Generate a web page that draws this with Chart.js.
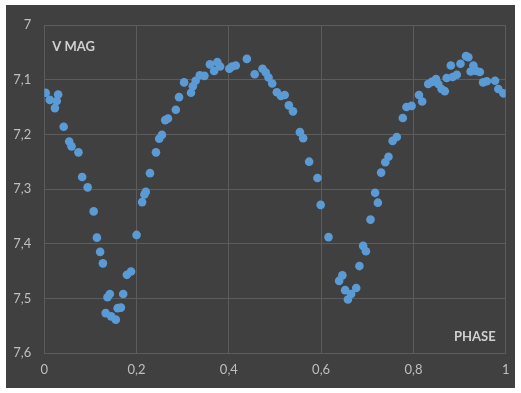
<!DOCTYPE html>
<html><head><meta charset="utf-8">
<script src="https://cdn.jsdelivr.net/npm/chart.js@4"></script>
<style>
html,body{margin:0;padding:0;background:#ffffff;width:521px;height:393px;overflow:hidden}
#wrap{position:absolute;left:6px;top:5px;width:509px;height:383px;background:#404040}
</style></head><body>
<div id="wrap"><canvas id="c" width="509" height="383"></canvas></div>
<script>
const phase = [0.003,0.012,0.030,0.027,0.023,0.042,0.054,0.059,0.074,0.082,0.094,0.107,0.114,0.121,0.127,0.137,0.142,0.133,0.145,0.155,0.159,0.166,0.171,0.179,0.188,0.200,0.212,0.217,0.220,0.229,0.242,0.249,0.255,0.262,0.268,0.285,0.292,0.303,0.318,0.322,0.328,0.337,0.347,0.359,0.368,0.375,0.381,0.401,0.407,0.415,0.439,0.456,0.473,0.480,0.486,0.494,0.504,0.513,0.521,0.530,0.539,0.554,0.561,0.574,0.592,0.599,0.616,0.646,0.639,0.652,0.658,0.665,0.676,0.683,0.691,0.697,0.707,0.717,0.723,0.730,0.739,0.746,0.755,0.764,0.777,0.785,0.796,0.812,0.819,0.832,0.840,0.849,0.854,0.861,0.868,0.872,0.881,0.885,0.894,0.902,0.914,0.919,0.930,0.924,0.936,0.944,0.951,0.959,0.977,0.984,0.995];
const vmag = [7.124,7.137,7.127,7.139,7.152,7.186,7.213,7.222,7.233,7.278,7.297,7.341,7.389,7.415,7.436,7.498,7.492,7.527,7.533,7.539,7.518,7.517,7.492,7.457,7.451,7.384,7.324,7.310,7.305,7.271,7.233,7.208,7.201,7.174,7.171,7.155,7.132,7.105,7.124,7.112,7.102,7.092,7.093,7.072,7.084,7.068,7.076,7.080,7.076,7.074,7.062,7.090,7.080,7.087,7.096,7.107,7.123,7.130,7.128,7.147,7.158,7.196,7.207,7.250,7.280,7.329,7.388,7.458,7.468,7.485,7.502,7.492,7.481,7.441,7.404,7.414,7.356,7.307,7.325,7.270,7.251,7.241,7.212,7.205,7.170,7.150,7.148,7.128,7.140,7.108,7.104,7.099,7.108,7.117,7.121,7.097,7.074,7.095,7.091,7.071,7.057,7.059,7.074,7.085,7.084,7.086,7.105,7.103,7.102,7.117,7.125];
const xTickLabels = ['0','0,2','0,4','0,6','0,8','1'];
const yTickLabels = ['7','7,1','7,2','7,3','7,4','7,5','7,6'];
const yAxisTitle = 'V MAG';
const xAxisTitle = 'PHASE';

const points = phase.map((p,i)=>({x:p,y:vmag[i]}));

const labelsPlugin = {
  id:'innerLabels',
  afterDraw(chart){
    const {ctx, chartArea:a} = chart;
    ctx.save();
    ctx.fillStyle = '#D0D0D0';
    ctx.font = 'bold 13px Lato, "Open Sans", sans-serif';
    ctx.textBaseline = 'middle';
    ctx.textAlign = 'left';
    ctx.fillText(yAxisTitle, a.left + 8, a.top + 22);
    ctx.textAlign = 'right';
    ctx.fillText(xAxisTitle, a.right - 10, a.bottom - 16);
    ctx.restore();
  }
};

new Chart(document.getElementById('c'), {
  type:'scatter',
  data:{datasets:[{data:points, backgroundColor:'#5B9BD5', borderWidth:0, pointRadius:4.3, pointHoverRadius:4.3}]},
  options:{
    responsive:false, animation:false,
    layout:{padding:{left:0,right:9.3,top:20,bottom:0}},
    plugins:{legend:{display:false}, tooltip:{enabled:false}},
    scales:{
      x:{type:'linear', min:0, max:1,
        grid:{color:'#5c5c5c', drawTicks:false},
        border:{color:'#5c5c5c'},
        ticks:{stepSize:0.2, padding:9, color:'#BFBFBF', font:{family:'Lato, "Open Sans", sans-serif', size:13},
          callback:(v)=>xTickLabels[Math.round(v*5)]},
        afterFit:(s)=>{s.height=35; s.paddingLeft=0; s.paddingRight=0;}
      },
      y:{type:'linear', min:7, max:7.6, reverse:true,
        grid:{color:'#5c5c5c', drawTicks:false},
        border:{color:'#5c5c5c'},
        ticks:{stepSize:0.1, padding:13, color:'#BFBFBF', font:{family:'Lato, "Open Sans", sans-serif', size:13},
          callback:(v)=>yTickLabels[Math.round((v-7)*10)]},
        afterFit:(s)=>{s.width=38.3; s.paddingTop=0; s.paddingBottom=0;}
      }
    }
  },
  plugins:[labelsPlugin]
});
</script>
</body></html>
